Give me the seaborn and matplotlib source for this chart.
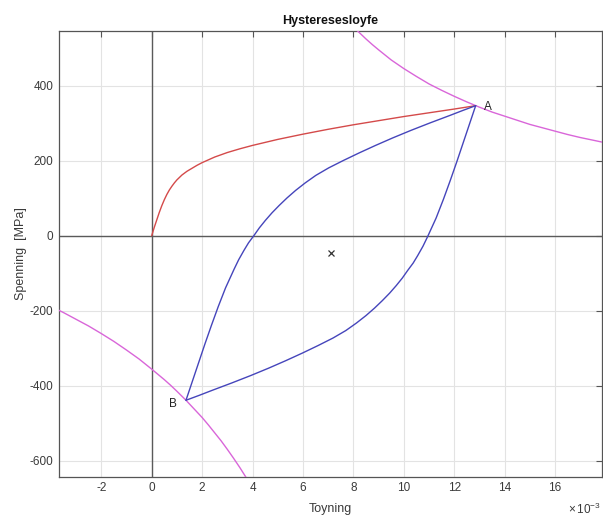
import numpy as np
import pandas as pd
import matplotlib
matplotlib.use("Agg")
import matplotlib.pyplot as plt
import seaborn as sns

# Strain values are in units of 1e-3, stress in MPa
mono_strain = [0.0, 0.1, 0.2, 0.3, 0.4, 0.5, 0.6, 0.7, 0.8, 0.9, 1.0, 1.2, 1.4, 1.6, 1.8, 2.0,
               2.5, 3.0, 3.5, 4.0, 5.0, 6.0, 7.0, 8.0, 9.0, 10.0, 11.0, 12.0, 12.85]
mono_stress = [0, 22, 42, 62, 80, 96, 110, 122, 132, 141, 149, 162, 172, 180, 188, 195,
               210, 222, 232, 241, 257, 271, 284, 296, 307, 318, 328, 338, 347]

# Reloading branch B -> A
up_strain = [1.36, 1.61, 1.86, 2.11, 2.37, 2.64, 2.93, 3.27, 3.45, 3.66, 3.84, 4.05,
             4.27, 4.51, 4.77, 5.06, 5.37, 5.71, 6.09, 6.51, 7.02, 7.61, 8.23, 8.88,
             9.56, 10.28, 11.04, 11.83, 12.33, 12.85]
up_stress = [-439, -389, -339, -289, -239, -189, -139, -89, -64, -39, -19, 0,
             21, 41, 61, 81, 101, 121, 141, 161, 181, 201, 221, 241,
             261, 281, 301, 321, 334, 347]

# Unloading branch A -> B
down_strain = [12.85, 12.60, 12.35, 12.10, 11.84, 11.57, 11.28, 10.94, 10.76, 10.55, 10.37, 10.16,
               9.94, 9.70, 9.44, 9.15, 8.84, 8.50, 8.12, 7.70, 7.19, 6.60, 5.98, 5.33,
               4.65, 3.93, 3.17, 2.38, 1.88, 1.36]
down_stress = [347, 297, 247, 197, 147, 97, 47, -3, -28, -53, -73, -92,
               -113, -133, -153, -173, -193, -213, -233, -253, -273, -293, -313, -333,
               -353, -373, -393, -413, -426, -439]

neuber_a_strain = [8.0, 8.25, 8.5, 8.75, 9.0, 9.5, 10.0, 10.5, 11.0, 11.5, 12.0, 12.5, 13.0,
                   13.5, 14.0, 14.5, 15.0, 15.5, 16.0, 16.5, 17.0, 17.5, 18.2]
neuber_a_stress = [557, 541, 525, 510, 496, 469, 446, 425, 405, 388, 372, 357, 343,
                   330, 319, 308, 297, 288, 279, 270, 262, 255, 245]

neuber_b_strain = [-3.8, -3.5, -3.0, -2.5, -2.0, -1.5, -1.0, -0.5, 0.0, 0.25, 0.5, 0.75, 1.0,
                   1.36, 1.75, 2.0, 2.25, 2.5, 2.75, 3.0, 3.25, 3.5, 3.8]
neuber_b_stress = [-195, -205, -223, -241, -261, -282, -305, -329, -356, -370, -384, -399, -415,
                   -439, -467, -485, -505, -526, -547, -570, -594, -619, -651]

loop_centre = (7.105, -46)
point_labels = ["A", "B"]
label_pos = [(13.35, 343), (0.85, -448)]

x_ticks = [-2, 0, 2, 4, 6, 8, 10, 12, 14, 16]
y_ticks = [-600, -400, -200, 0, 200, 400]

sns.set_style("white")
plt.rcParams["font.family"] = ["Liberation Sans", "DejaVu Sans"]
plt.rcParams["mathtext.fontset"] = "custom"
plt.rcParams["mathtext.rm"] = "Liberation Sans"

fig = plt.figure(figsize=(6.03, 5.18), dpi=100)
ax = fig.add_axes([0.0973, 0.0797, 0.901, 0.861])

# Reference axes through the origin
ax.axhline(0, color="#5a5a5a", lw=1.0, zorder=1)
ax.axvline(0, color="#5a5a5a", lw=1.0, zorder=1)

def curve(xs, ys, color):
    df = pd.DataFrame({"strain": xs, "stress": ys})
    sns.lineplot(data=df, x="strain", y="stress", sort=False, estimator=None,
                 color=color, lw=1.0, ax=ax, zorder=3)

curve(neuber_a_strain, neuber_a_stress, "#d966d9")
curve(neuber_b_strain, neuber_b_stress, "#d966d9")
curve(mono_strain, mono_stress, "#d44a4a")
curve(up_strain, up_stress, "#4545bb")
curve(down_strain, down_stress, "#4545bb")

ax.plot([loop_centre[0]], [loop_centre[1]], marker="x", color="#333333",
        ms=5, mew=0.9, ls="none", zorder=4)

for lab, (px, py) in zip(point_labels, label_pos):
    ax.text(px, py, lab, fontsize=8.5, color="#222222", ha="center", va="center")

ax.set_xlim(-3.69, 17.86)
ax.set_ylim(-643, 547)
ax.set_xticks(x_ticks)
ax.set_yticks(y_ticks)
ax.set_xticklabels([str(t) for t in x_ticks])
ax.set_yticklabels([str(t) for t in y_ticks])

ax.grid(True, color="#e3e3e3", lw=0.8, zorder=0)
ax.set_axisbelow(True)
for s in ax.spines.values():
    s.set_color("#555555")
    s.set_linewidth(0.9)
ax.tick_params(direction="in", length=4, width=0.8, color="#555555",
               labelsize=8.5, labelcolor="#3a3a3a", top=True, right=True,
               labeltop=False, labelright=False, pad=4)

ax.set_xlabel("Toyning", fontsize=9, color="#3a3a3a", labelpad=6)
ax.set_ylabel("Spenning  [MPa]", fontsize=9, color="#3a3a3a", labelpad=2)
ax.set_title("Hysteresesloyfe", fontsize=9, fontweight="bold", color="#111111", pad=5)

fig.text(0.997, 0.001, r"$\times\,10^{-3}$", fontsize=8.5, color="#3a3a3a",
         ha="right", va="bottom")

fig.savefig("out.png", dpi=100, facecolor="white")
